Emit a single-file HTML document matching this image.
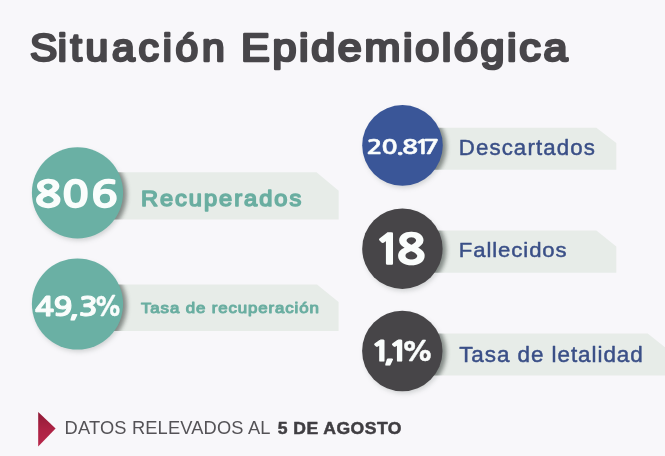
<!DOCTYPE html>
<html lang="es">
<head>
<meta charset="utf-8">
<title>Situación Epidemiológica</title>
<style>
html,body{margin:0;padding:0;background:#f8f7fa;}
body{width:665px;height:456px;overflow:hidden;position:relative;font-family:"Liberation Sans",sans-serif;}
svg{position:absolute;left:0;top:0;display:block;filter:blur(.4px);}
text{font-family:"Liberation Sans",sans-serif;stroke-linejoin:round;stroke-linecap:round;white-space:pre;}
text.n{font-family:"NanumGothic","Liberation Sans",sans-serif;font-weight:700;fill:#fafdfc;stroke:#fafdfc;}
</style>
</head>
<body>
<svg width="665" height="456" viewBox="0 0 665 456">
  <defs>
    <filter id="sh" x="-20%" y="-20%" width="140%" height="140%">
      <feGaussianBlur stdDeviation="2.4"/>
    </filter>
    <filter id="sh2" x="-20%" y="-20%" width="140%" height="140%">
      <feGaussianBlur stdDeviation="2.3"/>
    </filter>
    <linearGradient id="tri" x1="0" y1="0" x2="0" y2="1">
      <stop offset="0" stop-color="#8f1a36"/>
      <stop offset=".5" stop-color="#ad2244"/>
      <stop offset="1" stop-color="#b8264a"/>
    </linearGradient>
    <clipPath id="rib">
      <rect x="100" y="172.3" width="240" height="47.3"/>
      <rect x="100" y="284.4" width="240" height="46.7"/>
      <rect x="420" y="127.7" width="200" height="42"/>
      <rect x="420" y="230.4" width="200" height="42.3"/>
      <rect x="420" y="333.5" width="245" height="42"/>
    </clipPath>
    
  </defs>
  <rect width="665" height="456" fill="#f8f7fa"/>

  <!-- ribbons -->
  <g fill="#e7ece8">
    <polygon points="100,172.3 316.5,172.3 338.7,190.8 338.7,219.6 100,219.6"/>
    <polygon points="100,284.4 317,284.4 338.6,301.9 338.6,331.1 100,331.1"/>
    <polygon points="420,127.7 596.4,127.7 616.3,143 616.3,169.7 420,169.7"/>
    <polygon points="420,230.4 596.4,230.4 616.3,246.4 616.3,272.7 420,272.7"/>
    <polygon points="420,333.5 647.7,333.5 665,347.3 665,375.5 420,375.5"/>
  </g>

  <!-- soft shadow of the discs on the page -->
  <g filter="url(#sh)" fill="#7d8582" opacity=".34">
    <circle cx="79" cy="195.500" r="45"/>
    <circle cx="79" cy="306.700" r="45"/>
    <circle cx="404" cy="148" r="39.700"/>
    <circle cx="404" cy="251.300" r="39.700"/>
    <circle cx="404" cy="353.600" r="39.700"/>
  </g>
  <!-- stronger shadow cast on the ribbons -->
  <g clip-path="url(#rib)">
    <g filter="url(#sh2)" fill="#4a514e" opacity=".55">
      <circle cx="81.500" cy="194.300" r="45.600"/>
      <circle cx="81.500" cy="305.500" r="45.600"/>
      <circle cx="406.500" cy="146.900" r="40.300"/>
      <circle cx="406.400" cy="250.200" r="40.200"/>
      <circle cx="406.300" cy="352.500" r="40.200"/>
    </g>
  </g>

  <!-- discs -->
  <circle cx="77.500" cy="192.800" r="45.600" fill="#6ab0a4"/>
  <circle cx="77.500" cy="304" r="45.600" fill="#6ab0a4"/>
  <circle cx="402.500" cy="145.400" r="40.300" fill="#3a5698"/>
  <circle cx="402.400" cy="248.700" r="40.200" fill="#474548"/>
  <circle cx="402.300" cy="351" r="40.200" fill="#474548"/>

  <!-- footer marker -->
  <polygon points="38.2,412 55.6,428.5 38.2,446.5" fill="url(#tri)"/>

  <!-- text -->
  <text transform="translate(29.9 60.5) scale(1.06 1)" font-size="38.52" fill="#48464a" x="0 26.27" letter-spacing="3.524" stroke="#48464a" stroke-width="2.6">Situación</text>
  <text transform="translate(241.1 60.5) scale(1.12 1)" font-size="38.52" fill="#48464a" textLength="291.36" lengthAdjust="spacing" stroke="#48464a" stroke-width="2.6">Epidemiológica</text>
  <text transform="translate(140.95 205.85) scale(1.07 1)" font-size="22.09" fill="#6aaea1" textLength="149.77" lengthAdjust="spacing" stroke="#6aaea1" stroke-width="1.5">Recuperados</text>
  <text transform="translate(141.05 312.8) scale(1.15 1)" font-size="14.68" fill="#6aaea1" textLength="154.57" lengthAdjust="spacing" stroke="#6aaea1" stroke-width="1">Tasa de recuperación</text>
  <text transform="translate(458.7 155.2) scale(1.05 1)" font-size="21.22" fill="#3a4f87" textLength="129.68" lengthAdjust="spacing" stroke="#3a4f87" stroke-width="0.45">Descartados</text>
  <text transform="translate(458.8 256.8) scale(1.05 1)" font-size="21.08" fill="#3a4f87" textLength="102.75" lengthAdjust="spacing" stroke="#3a4f87" stroke-width="0.45">Fallecidos</text>
  <text transform="translate(459.15 361.7) scale(1.05 1)" font-size="21.37" fill="#3a4f87" textLength="174.88" lengthAdjust="spacing" stroke="#3a4f87" stroke-width="0.45">Tasa de letalidad</text>
  <text transform="translate(64.6 434.3) scale(1.04 1)" font-size="17.59" fill="#545256" textLength="197.93" lengthAdjust="spacing">DATOS RELEVADOS AL</text>
  <text transform="translate(277.65 434.1) scale(1.03 1)" font-size="17.09" fill="#403e42" textLength="120.27" lengthAdjust="spacing" font-weight="700" stroke="#403e42" stroke-width="0.5">5 DE AGOSTO</text>
  <text class="n" transform="scale(1.275 1)" x="27.02 48.59 71.47" y="207.4" font-size="35.03" stroke-width="1.3">806</text>
  <text class="n" transform="scale(1.178 1)" x="29.63 45.35 58.89 66.81" y="316.03" font-size="26.8" stroke-width="1">49,3<tspan x="79.67" y="315.93" font-size="26" stroke-width="0.3" textLength="24.22" lengthAdjust="spacingAndGlyphs">%</tspan></text>
  <text class="n" transform="scale(1.333 1)" x="275.04 286.29 297.11 301.63 310.8 317.55" y="153.88" font-size="19.93" stroke-width="0.45">20.817</text>
  <text class="n" transform="scale(1.186 1)" x="315.18 334.34" y="263.99" font-size="40.78" stroke-width="1.6">18</text>
  <text class="n" transform="scale(1.262 1)" x="293.64 304.38 307.67" y="361.02" font-size="27.58" stroke-width="1.2">1,1<tspan x="317.71" y="360.92" font-size="26.78" stroke-width="0.4" textLength="26.08" lengthAdjust="spacingAndGlyphs">%</tspan></text>
</svg>
</body>
</html>
